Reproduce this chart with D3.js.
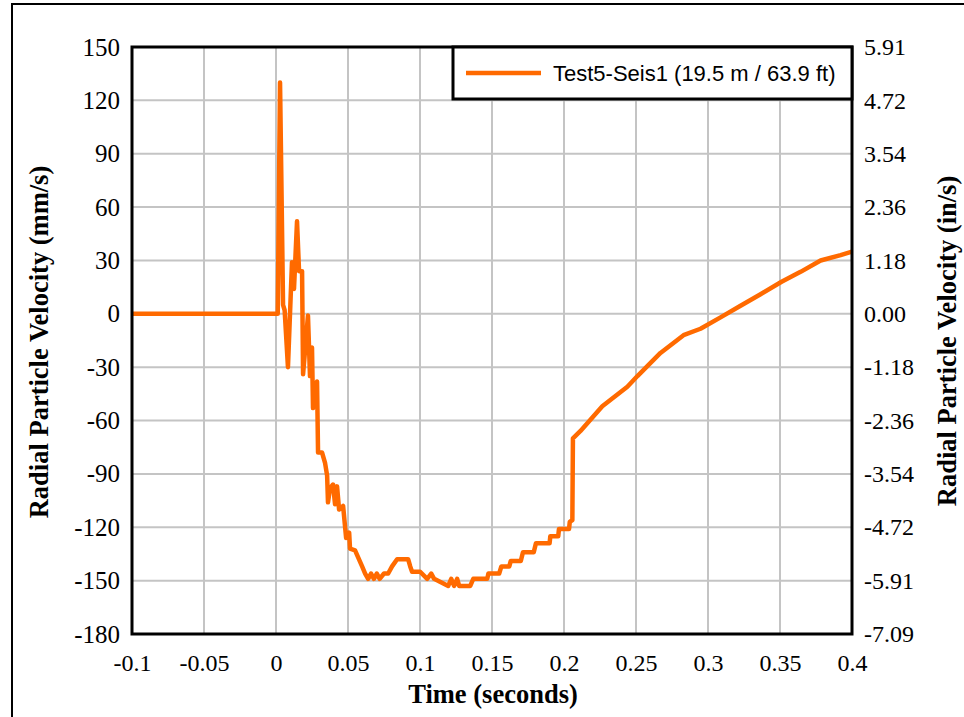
<!DOCTYPE html>
<html><head><meta charset="utf-8">
<script src="https://cdn.jsdelivr.net/npm/d3@7"></script>
<style>body{margin:0;background:#fff}svg{display:block}</style>
</head><body>
<script>
const seriesName = "Test5-Seis1 (19.5 m / 63.9 ft)";
const times = [-0.1, 0.0, 0.0012, 0.0028, 0.0049, 0.006, 0.0083, 0.0111, 0.0125, 0.0146, 0.016, 0.0181, 0.0188, 0.0222, 0.0236, 0.025, 0.0257, 0.0285, 0.0292, 0.032, 0.0341, 0.0355, 0.0361, 0.0375, 0.0396, 0.041, 0.0424, 0.0438, 0.0466, 0.0487, 0.0508, 0.0514, 0.0549, 0.0598, 0.0619, 0.064, 0.066, 0.068, 0.070, 0.072, 0.075, 0.0779, 0.0806, 0.0841, 0.0918, 0.0932, 0.0945, 0.1001, 0.105, 0.1078, 0.1098, 0.1196, 0.1217, 0.1237, 0.1258, 0.1272, 0.1349, 0.137, 0.1467, 0.1475, 0.155, 0.1565, 0.162, 0.163, 0.170, 0.1715, 0.179, 0.1805, 0.19, 0.1905, 0.196, 0.1965, 0.2035, 0.204, 0.2058, 0.2062, 0.2113, 0.2266, 0.244, 0.251, 0.267, 0.283, 0.2948, 0.3087, 0.3226, 0.3365, 0.3511, 0.3643, 0.3782, 0.3921, 0.4];
const velocities = [0, 0, 0, 130, 5, 2, -30, 29, 14, 52, 24, 24, -34, -1, -35, -19, -53, -38, -78, -78, -84, -91, -106, -98, -96, -107, -97, -110, -108, -126, -123, -132, -133, -142, -146, -149, -146, -149, -146, -149, -146, -146, -142, -138, -138, -142, -145, -145, -149, -146, -149, -153, -149, -153, -149, -153, -153, -149, -149, -146, -146, -142, -142, -139, -139, -134, -134, -129, -129, -125, -125, -121, -121, -117, -116, -70, -66, -52, -41, -35, -22, -12, -8.4, -2, 4.5, 11, 18, 23.6, 30, 33, 35];
const xTicks = [-0.1, -0.05, 0, 0.05, 0.1, 0.15, 0.2, 0.25, 0.3, 0.35, 0.4];
const yTicks = [-180, -150, -120, -90, -60, -30, 0, 30, 60, 90, 120, 150];
const rightTickLabels = ["-7.09", "-5.91", "-4.72", "-3.54", "-2.36", "-1.18", "0.00", "1.18", "2.36", "3.54", "4.72", "5.91"];

const W = 964, H = 717;
const m = {left: 132, right: 852, top: 47, bottom: 634};
const svg = d3.select("body").append("svg").attr("width", W).attr("height", H);

// outer frame
svg.append("rect").attr("x", 12).attr("y", 4).attr("width", W + 10).attr("height", H + 10)
  .attr("fill", "none").attr("stroke", "#000").attr("stroke-width", 2);

const x = d3.scaleLinear().domain([-0.1, 0.4]).range([m.left, m.right]);
const y = d3.scaleLinear().domain([-180, 150]).range([m.bottom, m.top]);

// grid
svg.append("g").selectAll("line").data(xTicks).join("line")
  .attr("x1", d => x(d)).attr("x2", d => x(d)).attr("y1", m.top).attr("y2", m.bottom)
  .attr("stroke", "#c4c4c4").attr("stroke-width", 2);
svg.append("g").selectAll("line").data(yTicks).join("line")
  .attr("x1", m.left).attr("x2", m.right).attr("y1", d => y(d)).attr("y2", d => y(d))
  .attr("stroke", "#c4c4c4").attr("stroke-width", 2);

// data line
const pts = times.map((t, i) => [t, velocities[i]]);
svg.append("path").datum(pts)
  .attr("d", d3.line().x(d => x(d[0])).y(d => y(d[1])))
  .attr("fill", "none").attr("stroke", "#ff6a00").attr("stroke-width", 4.5)
  .attr("stroke-linejoin", "round");

// plot frame
svg.append("rect").attr("x", m.left).attr("y", m.top)
  .attr("width", m.right - m.left).attr("height", m.bottom - m.top)
  .attr("fill", "none").attr("stroke", "#000").attr("stroke-width", 3);

const tickFont = "'Liberation Serif', 'Times New Roman', serif";
const leftAxis = d3.axisLeft(y).tickValues(yTicks).tickSize(0).tickPadding(12).tickFormat(d => String(d));
const gl = svg.append("g").attr("transform", `translate(${m.left},0)`).call(leftAxis);
const rightAxis = d3.axisRight(y).tickValues(yTicks).tickSize(0).tickPadding(12)
  .tickFormat((d, i) => rightTickLabels[i]);
const gr = svg.append("g").attr("transform", `translate(${m.right},0)`).call(rightAxis);
const bottomAxis = d3.axisBottom(x).tickValues(xTicks).tickSize(0).tickPadding(20)
  .tickFormat(d => String(+d.toFixed(2)));
const gb = svg.append("g").attr("transform", `translate(0,${m.bottom})`).call(bottomAxis);
[gl, gr, gb].forEach(g => {
  g.select(".domain").remove();
  g.selectAll("text").attr("font-family", tickFont).attr("font-size", 24).attr("fill", "#000");
});
gl.selectAll("text").attr("font-size", 25);

// axis titles
svg.append("text").attr("x", (m.left + m.right) / 2 + 1).attr("y", 703)
  .attr("text-anchor", "middle").attr("font-family", tickFont).attr("font-weight", "bold")
  .attr("font-size", 26.5).text("Time (seconds)");
svg.append("text").attr("transform", `translate(48,342) rotate(-90)`)
  .attr("text-anchor", "middle").attr("font-family", tickFont).attr("font-weight", "bold")
  .attr("font-size", 26.5).text("Radial Particle Velocity (mm/s)");
svg.append("text").attr("transform", `translate(956,341) rotate(-90)`)
  .attr("text-anchor", "middle").attr("font-family", tickFont).attr("font-weight", "bold")
  .attr("font-size", 26.5).text("Radial Particle Velocity (in/s)");

// legend
const lg = svg.append("g");
lg.append("rect").attr("x", 453).attr("y", m.top).attr("width", m.right - 453).attr("height", 52)
  .attr("fill", "#fff").attr("stroke", "#000").attr("stroke-width", 3);
lg.append("line").attr("x1", 466).attr("x2", 541).attr("y1", 73).attr("y2", 73)
  .attr("stroke", "#ff6a00").attr("stroke-width", 4.5);
lg.append("text").attr("x", 553).attr("y", 81).attr("font-family", "'Liberation Sans', Arial, sans-serif")
  .attr("font-size", 22).text(seriesName);
</script>
</body></html>
